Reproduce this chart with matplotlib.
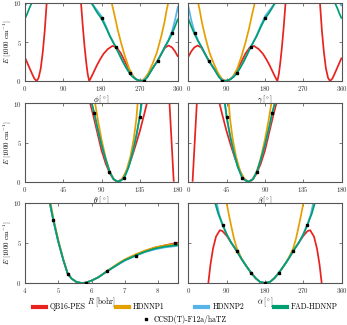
import numpy as np
import matplotlib
matplotlib.use("Agg")
import matplotlib.pyplot as plt
from matplotlib.lines import Line2D

nan = np.nan

# ---- phi panel ----
phi_red_x = [0, 8, 16, 22, 27.5, 32, 37, 42, 46.5, 51, 91, 131.8, 136, 140, 144, 147.5, 151, 156, 163, 170, 177, 185, 195,
             206, 216, 226, 235, 245, 255, 265, 274, 285, 300, 312, 322, 330, 338, 346, 353, 360]
phi_red_y = [3.0, 2.0, 1.0, 0.3, 0, 0.4, 1.6, 3.8, 6.5, 10, nan, 10, 7.0, 4.5, 2.4, 0.9, 0.0, 0.5, 1.3, 2.1, 2.8, 3.5, 4.1,
             4.5, 4.3, 3.5, 2.5, 1.4, 0.55, 0.1, 0, 0.4, 1.6, 2.6, 3.6, 4.3, 4.55, 4.3, 3.8, 3.1]
phi_orange_x = [204, 210, 218, 226, 235, 245, 255, 263, 271, 280, 290, 300, 310, 320, 328, 334, 337]
phi_orange_y = [10, 8.6, 6.6, 4.9, 3.2, 1.6, 0.6, 0.15, 0, 0.2, 1.0, 2.2, 3.6, 5.6, 7.5, 9.3, 10]
phi_blue_x = [0, 4, 90, 155, 162, 169, 180, 190, 200, 214, 230, 245, 260, 268, 276, 288, 300, 312, 325, 337, 346, 353, 360]
phi_blue_y = [9.6, 10, nan, 10, 9.6, 9.1, 8.3, 7.1, 5.8, 4.3, 2.5, 1.1, 0.25, 0.08, 0, 0.5, 1.6, 2.6, 3.9, 5.2, 6.4, 7.8, 9.6]
phi_green_x = [0, 5, 10, 15.7, 90, 157, 165, 172, 180, 190, 200, 214, 222, 230, 238, 245, 252, 260, 268, 276, 281, 288,
               300, 312, 320, 328, 337, 346, 353, 360]
phi_green_y = [8.0, 8.6, 9.3, 10, nan, 10, 9.2, 8.6, 8.0, 6.9, 5.7, 4.3, 3.4, 2.5, 1.7, 1.1, 0.6, 0.25, 0.08, 0, 0.05, 0.5,
               1.6, 2.6, 3.4, 4.3, 5.1, 6.1, 7.0, 8.0]
phi_pts_x = [181, 214, 246, 281, 312, 346]
phi_pts_y = [8.1, 4.3, 1.07, 0.05, 2.6, 6.1]

# ---- gamma panel ----
gam_red_x = [0, 7, 14, 22, 30, 38, 48, 60, 75, 86, 95, 105, 115, 125, 134, 144, 154, 165, 175, 183, 190, 197, 204, 209,
             212.5, 216, 220, 224, 228.2, 270, 309, 313.5, 318, 323, 328, 332.5, 338, 344, 352, 360]
gam_red_y = [3.1, 3.8, 4.3, 4.55, 4.3, 3.6, 2.6, 1.6, 0.4, 0, 0.1, 0.55, 1.4, 2.5, 3.5, 4.3, 4.5, 4.1, 3.5, 2.8, 2.1, 1.3,
             0.5, 0, 0.9, 2.4, 4.5, 7.0, 10, nan, 10, 6.5, 3.8, 1.6, 0.4, 0, 0.3, 1.0, 2.0, 3.0]
gam_orange_x = [23, 26, 32, 40, 50, 60, 70, 80, 89, 97, 105, 115, 125, 134, 142, 150, 156]
gam_orange_y = [10, 9.3, 7.5, 5.6, 3.6, 2.2, 1.0, 0.2, 0, 0.15, 0.6, 1.6, 3.2, 4.9, 6.6, 8.6, 10]
gam_blue_x = [0, 7, 14, 23, 35, 48, 60, 72, 84, 92, 100, 115, 130, 146, 160, 170, 180, 191, 198, 205, 280, 356, 360]
gam_blue_y = [9.6, 7.8, 6.4, 5.2, 3.9, 2.6, 1.6, 0.5, 0, 0.08, 0.25, 1.1, 2.5, 4.3, 5.8, 7.1, 8.3, 9.1, 9.6, 10, nan, 10, 9.6]
gam_green_x = [0, 7, 14, 23, 32, 40, 48, 60, 72, 79, 84, 92, 100, 108, 115, 122, 130, 138, 146, 160, 170, 180, 188, 195,
               203, 270, 344.3, 350, 355, 360]
gam_green_y = [8.0, 7.0, 6.1, 5.1, 4.3, 3.4, 2.6, 1.6, 0.5, 0.05, 0, 0.08, 0.25, 0.6, 1.1, 1.7, 2.5, 3.4, 4.3, 5.7, 6.9,
               8.0, 8.6, 9.2, 10, nan, 10, 9.3, 8.6, 8.0]
gam_pts_x = [15.7, 48.5, 79, 114, 147, 181]
gam_pts_y = [6.1, 2.6, 0.05, 1.07, 4.3, 8.1]

# ---- theta panel ----
th_red_x = [76.6, 80, 85, 90, 95, 100, 105, 109, 115, 120, 125, 130, 135, 140, 143.4, 160, 170, 172.5, 175]
th_red_y = [10, 8.6, 6.3, 4.0, 2.3, 1.0, 0.2, 0, 0.4, 1.5, 2.9, 4.6, 6.4, 8.5, 10, nan, 10, 5, 0]
th_orange_x = [82.5, 86, 90, 95, 100, 105, 109, 114, 119, 124, 128, 131, 132.5]
th_orange_y = [10, 7.7, 5.4, 3.0, 1.2, 0.25, 0, 0.3, 1.3, 3.2, 5.5, 8.0, 10]
th_blue_x = [78.4, 81.7, 85, 90, 95, 99.4, 104, 109, 113, 117, 122, 127, 131, 134.8, 137.3]
th_blue_y = [10, 8.6, 6.9, 4.7, 2.8, 1.3, 0.35, 0, 0.15, 0.55, 1.9, 3.9, 5.8, 8.0, 10]
th_green_x = [78.6, 81.7, 85, 90, 95, 99.4, 104, 109, 113, 117, 122, 127, 131, 134.8, 137]
th_green_y = [10, 8.7, 7.0, 4.7, 2.8, 1.3, 0.35, 0, 0.15, 0.55, 1.9, 3.9, 5.9, 8.2, 10]
th_pts_x = [81.7, 99.4, 117, 134.8]
th_pts_y = [8.7, 1.2, 0.47, 8.2]

# ---- beta panel ----
be_red_x = [5, 7.5, 10, 20, 36.6, 40, 45, 50, 55, 60, 65, 71, 75, 80, 85, 90, 95, 100, 103.4]
be_red_y = [0, 5, 10, nan, 10, 8.5, 6.4, 4.6, 2.9, 1.5, 0.4, 0, 0.2, 1.0, 2.3, 4.0, 6.3, 8.6, 10]
be_orange_x = [47.5, 49, 52, 56, 61, 66, 71, 75, 80, 85, 90, 94, 97.5]
be_orange_y = [10, 8.0, 5.5, 3.2, 1.3, 0.3, 0, 0.25, 1.2, 3.0, 5.4, 7.7, 10]
be_blue_x = [42.7, 45.2, 49, 53, 58, 63, 67, 71, 76, 80.6, 85, 90, 95, 98.3, 101.6]
be_blue_y = [10, 8.0, 5.8, 3.9, 1.9, 0.55, 0.15, 0, 0.35, 1.3, 2.8, 4.7, 6.9, 8.6, 10]
be_green_x = [43, 45.2, 49, 53, 58, 63, 67, 71, 76, 80.6, 85, 90, 95, 98.3, 101.4]
be_green_y = [10, 8.2, 5.9, 3.9, 1.9, 0.55, 0.15, 0, 0.35, 1.3, 2.8, 4.7, 7.0, 8.7, 10]
be_pts_x = [45.8, 63.4, 81, 98.6]
be_pts_y = [8.2, 0.47, 1.2, 8.7]

# ---- R panel ----
R_x = [4.75, 4.85, 5.0, 5.15, 5.28, 5.4, 5.55, 5.7, 5.84, 6.0, 6.2, 6.48, 6.8, 7.0, 7.33, 7.6, 7.9, 8.2, 8.6]
R_red_y = [10, 7.9, 5.2, 2.9, 1.2, 0.55, 0.12, 0, 0.05, 0.3, 0.7, 1.5, 2.35, 2.85, 3.45, 3.95, 4.4, 4.7, 5.05]
R_orange_y = [10.4, 8.2, 5.4, 3.0, 1.25, 0.55, 0.12, 0, 0.05, 0.3, 0.72, 1.55, 2.45, 2.95, 3.6, 4.05, 4.45, 4.7, 4.9]
R_blue_y = [9.8, 7.8, 5.1, 2.9, 1.2, 0.55, 0.12, 0, 0.05, 0.3, 0.7, 1.5, 2.3, 2.8, 3.4, 3.85, 4.2, 4.45, 4.65]
R_green_y = [10, 7.9, 5.2, 2.9, 1.2, 0.55, 0.12, 0, 0.05, 0.3, 0.7, 1.5, 2.35, 2.85, 3.45, 3.9, 4.3, 4.55, 4.75]
R_pts_x = [4.85, 5.28, 5.84, 6.48, 7.33, 8.51]
R_pts_y = [7.9, 1.1, 0.04, 1.5, 3.4, 4.96]

# ---- alpha panel ----
al_red_x = [47, 52, 58, 65, 74, 80, 90, 100, 111, 125, 135, 147, 158, 168, 180, 192, 202, 213, 225, 235, 249, 260, 270,
            280, 286, 295, 302, 308, 313]
al_red_y = [0, 2.3, 4.3, 5.8, 6.6, 6.5, 5.9, 5.1, 4.2, 3.0, 2.2, 1.3, 0.6, 0.15, 0, 0.15, 0.6, 1.3, 2.2, 3.0, 4.2, 5.1,
            5.9, 6.5, 6.6, 5.8, 4.3, 2.3, 0]
al_orange_x = [90, 95, 100, 107, 114, 125, 135, 147, 158, 168, 180, 192, 202, 213, 225, 235, 246, 253, 260, 265, 270]
al_orange_y = [10, 8.6, 7.3, 5.6, 4.3, 3.1, 2.2, 1.3, 0.6, 0.15, 0, 0.15, 0.6, 1.3, 2.2, 3.1, 4.3, 5.6, 7.3, 8.6, 10]
al_blue_x = [66.6, 73, 80.6, 90, 100, 114, 125, 135, 147, 158, 168, 180, 192, 202, 213, 225, 235, 246, 260, 270, 279.4,
             287, 293.4]
al_blue_y = [10, 8.5, 7.3, 6.1, 5.1, 4.0, 3.0, 2.2, 1.3, 0.6, 0.15, 0, 0.15, 0.6, 1.3, 2.2, 3.0, 4.0, 5.1, 6.1, 7.3, 8.5, 10]
al_green_x = [63, 70, 80.6, 90, 100, 114, 125, 135, 147, 158, 168, 180, 192, 202, 213, 225, 235, 246, 260, 270, 279.4,
              290, 297]
al_green_y = [10, 8.7, 7.25, 6.1, 5.1, 4.0, 3.0, 2.2, 1.3, 0.6, 0.15, 0, 0.15, 0.6, 1.3, 2.2, 3.0, 4.0, 5.1, 6.1, 7.25,
              8.7, 10]
al_pts_x = [80.6, 114, 147, 180, 213, 246, 279.4]
al_pts_y = [7.25, 4.0, 1.3, 0.0, 1.3, 4.0, 7.25]

labels = ['QB16-PES', 'HDNNP1', 'HDNNP2', 'FAD-HDNNP']
colors = ['#e8221e', '#e69f00', '#56b4e9', '#009e73']
ref_label = 'CCSD(T)-F12a/haTZ'

plt.rcParams['font.family'] = 'serif'
plt.rcParams['font.serif'] = ['cmr10', 'DejaVu Serif']
plt.rcParams['mathtext.fontset'] = 'cm'
plt.rcParams['axes.formatter.use_mathtext'] = True
plt.rcParams['font.size'] = 5

fig = plt.figure(figsize=(3.47, 3.25), dpi=100)
W, H = 347.0, 325.0

def make_ax(x0, x1, y0, y1):
    return fig.add_axes([x0 / W, 1 - y1 / H, (x1 - x0) / W, (y1 - y0) / H])

panels = [
    (make_ax(25, 178, 3, 81), [phi_red_x, phi_orange_x, phi_blue_x, phi_green_x],
     [phi_red_y, phi_orange_y, phi_blue_y, phi_green_y], phi_pts_x, phi_pts_y,
     (0, 360), [0, 90, 180, 270, 360], r'$\phi\,[^\circ]$', True),
    (make_ax(188.3, 341.7, 3, 81), [gam_red_x, gam_orange_x, gam_blue_x, gam_green_x],
     [gam_red_y, gam_orange_y, gam_blue_y, gam_green_y], gam_pts_x, gam_pts_y,
     (0, 360), [0, 90, 180, 270, 360], r'$\gamma\,[^\circ]$', False),
    (make_ax(25, 178, 103.3, 181.7), [th_red_x, th_orange_x, th_blue_x, th_green_x],
     [th_red_y, th_orange_y, th_blue_y, th_green_y], th_pts_x, th_pts_y,
     (0, 180), [0, 45, 90, 135, 180], r'$\theta\ [^\circ]$', True),
    (make_ax(188.3, 341.7, 103.3, 181.7), [be_red_x, be_orange_x, be_blue_x, be_green_x],
     [be_red_y, be_orange_y, be_blue_y, be_green_y], be_pts_x, be_pts_y,
     (0, 180), [0, 45, 90, 135, 180], r'$\beta\,[^\circ]$', False),
    (make_ax(25, 178, 203, 283), [R_x, R_x, R_x, R_x],
     [R_red_y, R_orange_y, R_blue_y, R_green_y], R_pts_x, R_pts_y,
     (4, 8.6), [4, 5, 6, 7, 8], r'$R$ [bohr]', True),
    (make_ax(188.3, 341.7, 203, 283), [al_red_x, al_orange_x, al_blue_x, al_green_x],
     [al_red_y, al_orange_y, al_blue_y, al_green_y], al_pts_x, al_pts_y,
     (0, 360), [0, 90, 180, 270, 360], r'$\alpha\,[^\circ]$', False),
]

for ax, xs, ys, px, py, xlim, xticks, xlabel, left in panels:
    for x, y, c in zip(xs, ys, colors):
        ax.plot(x, y, color=c, lw=1.25, solid_capstyle='butt')
    ax.plot(px, py, 's', color='black', ms=2.0, zorder=5)
    ax.set_xlim(*xlim)
    ax.set_ylim(0, 10)
    ax.set_xticks(xticks)
    ax.set_yticks([0, 5, 10])
    ax.tick_params(direction='in', top=True, right=True, length=2.5, width=0.5,
                   labelsize=5, pad=2.5, colors='#444444', labelcolor='#333333')
    for s in ax.spines.values():
        s.set_linewidth(0.8)
        s.set_color('#555555')
    ax.set_xlabel(xlabel, fontsize=5.5, labelpad=0)
    if left:
        ax.set_ylabel(r'$E$ [1000 cm$^{-1}$]', fontsize=5)
        ax.yaxis.set_label_coords(-0.08, 0.5)
    else:
        ax.set_yticklabels([])

handles = [Line2D([], [], color=c, lw=3) for c in colors]
fig.legend(handles, labels, loc='center', bbox_to_anchor=(0.535, 1 - 307 / H), ncol=4,
           frameon=False, fontsize=5.5, handlelength=1.7, columnspacing=4.0, handletextpad=0.5,
           borderaxespad=0, borderpad=0)
fig.legend([Line2D([], [], ls='none', marker='s', color='black', ms=2.0)], [ref_label],
           loc='center', bbox_to_anchor=(0.53, 1 - 319 / H), frameon=False, fontsize=5.5,
           handlelength=1.0, handletextpad=0.5, borderaxespad=0, borderpad=0)

fig.savefig('out.png', dpi=100)
